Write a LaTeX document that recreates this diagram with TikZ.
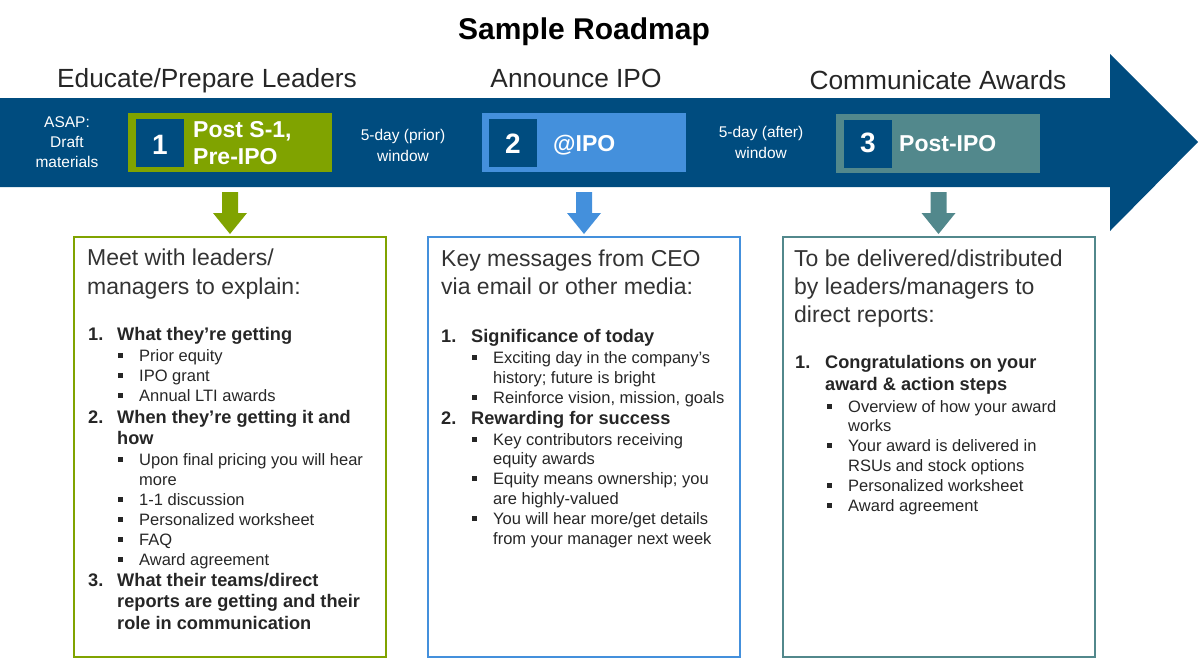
\documentclass[tikz,border=0pt]{standalone}
\usepackage{fontspec}
\setmainfont{Liberation Sans}
\definecolor{navy}{HTML}{004C7F}
\definecolor{lgreen}{HTML}{80A300}
\definecolor{lblue}{HTML}{4490DC}
\definecolor{teal2}{HTML}{52888C}
\definecolor{txt}{HTML}{262626}
\definecolor{hdc}{HTML}{333333}
\tikzset{
 tx/.style={inner sep=0pt, anchor=base west},
 ttl/.style={inner sep=0pt, anchor=base, font=\fontsize{30}{36}\selectfont\bfseries, text=black},
 sec/.style={inner sep=0pt, anchor=base, font=\fontsize{26.3}{31}\selectfont, text=txt},
 wt/.style={inner sep=0pt, anchor=base, font=\fontsize{15.5}{19}\selectfont, text=white},
 lab/.style={tx, font=\fontsize{23}{27}\selectfont\bfseries, text=white},
 num/.style={inner sep=0pt, anchor=base, font=\fontsize{28}{33}\selectfont\bfseries, text=white},
 hd/.style={tx, font=\fontsize{23}{28}\selectfont, text=hdc},
 bi/.style={tx, font=\fontsize{18.2}{21}\selectfont\bfseries, text=txt},
 si/.style={tx, font=\fontsize{16.5}{20}\selectfont, text=txt},
 stepbox/.style={draw=none, inner sep=0pt, minimum width=204pt, minimum height=59pt},
 sq/.style={fill=navy, inner sep=0pt, minimum size=48pt},
 cbox/.style={line width=2pt, inner sep=0pt, minimum width=312pt, minimum height=420pt},
}
\newcommand\blt[4]{\fill[txt] (#1-21,#2-8) rectangle (#1-16,#2-3); \node[si] (#4) at (#1,#2) {#3};}
\newcommand\darr[2]{\fill[#2] (#1-8,192) -- (#1+8,192) -- (#1+8,213) -- (#1+17,213) -- (#1,234) -- (#1-17,213) -- (#1-8,213) -- cycle;}
\begin{document}
\begin{tikzpicture}[x=1pt,y=-1pt]
\useasboundingbox (0,0) rectangle (1200,659);
% title and section headings
\node[ttl] (title) at (584,39) {Sample Roadmap};
\node[sec] (sec1) at (207,87) {Educate/Prepare Leaders};
\node[sec] (sec2) at (576,87) {Announce IPO};
\node[sec] (sec3) at (938,89) {Communicate Awards};
% main arrow
\fill[navy] (0,98) -- (1110,98) -- (1110,54) -- (1198,142) -- (1110,231) -- (1110,187) -- (0,187) -- cycle;
% texts on the arrow
\node[wt] (asap1) at (67,127) {ASAP:};
\node[wt] (asap2) at (67,147) {Draft};
\node[wt] (asap3) at (67,167) {materials};
\node[wt] (pr1) at (403,140) {5-day (prior)};
\node[wt] (pr2) at (403,161) {window};
\node[wt] (af1) at (761,137) {5-day (after)};
\node[wt] (af2) at (761,158) {window};
% step boxes
\node[stepbox, fill=lgreen] (s1) at (230,142.5) {};
\node[sq] (q1) at (160,143) {};
\node[num] (n1) at (160,154) {1};
\node[lab] (l1a) at (193,137) {Post S-1,};
\node[lab] (l1b) at (193,164) {Pre-IPO};
\node[stepbox, fill=lblue] (s2) at (584,142) {};
\node[sq] (q2) at (513,143) {};
\node[num] (n2) at (513,153.5) {2};
\node[lab] (l2) at (553,151) {@IPO};
\node[stepbox, fill=teal2] (s3) at (937.5,143.5) {};
\node[sq] (q3) at (868,143.5) {};
\node[num] (n3) at (868,152) {3};
\node[lab] (l3) at (899,151) {Post-IPO};
% down arrows
\darr{230}{lgreen}
\darr{584}{lblue}
\darr{938.5}{teal2}
% content boxes
\node[cbox, draw=lgreen] (c1) at (230,447) {};
\node[cbox, draw=lblue] (c2) at (584,447) {};
\node[cbox, draw=teal2] (c3) at (938.5,447) {};
% box 1 text
\node[hd] (h1a) at (87,265) {Meet with leaders/};
\node[hd] (h1b) at (87,294) {managers to explain:};
\node[bi] (a1n) at (88,340) {1.};
\node[bi] (a1) at (117,340) {What they’re getting};
\blt{139}{361}{Prior equity}{a1x}
\blt{139}{381}{IPO grant}{a1y}
\blt{139}{401}{Annual LTI awards}{a1z}
\node[bi] (a2n) at (88,423) {2.};
\node[bi] (a2) at (117,423) {When they’re getting it and};
\node[bi] (a2b) at (117,444) {how};
\blt{139}{465}{Upon final pricing you will hear}{a2u}
\node[si] (a2v) at (139,485) {more};
\blt{139}{505}{1-1 discussion}{a2w}
\blt{139}{525}{Personalized worksheet}{a2x}
\blt{139}{545}{FAQ}{a2y}
\blt{139}{565}{Award agreement}{a2z}
\node[bi] (a3n) at (88,586) {3.};
\node[bi] (a3) at (117,586) {What their teams/direct};
\node[bi] (a3b) at (117,607) {reports are getting and their};
\node[bi] (a3c) at (117,629) {role in communication};
% box 2 text
\node[hd] (h2a) at (441,266) {Key messages from CEO};
\node[hd] (h2b) at (441,294) {via email or other media:};
\node[bi] (b1n) at (441,342) {1.};
\node[bi] (b1) at (471,342) {Significance of today};
\blt{493}{363}{Exciting day in the company’s}{b1x}
\node[si] (b1y) at (493,383) {history; future is bright};
\blt{493}{403}{Reinforce vision, mission, goals}{b1z}
\node[bi] (b2n) at (441,424) {2.};
\node[bi] (b2) at (471,424) {Rewarding for success};
\blt{493}{445}{Key contributors receiving}{b2u}
\node[si] (b2v) at (493,464) {equity awards};
\blt{493}{484}{Equity means ownership; you}{b2w}
\node[si] (b2x) at (493,504) {are highly-valued};
\blt{493}{524}{You will hear more/get details}{b2y}
\node[si] (b2z) at (493,544) {from your manager next week};
% box 3 text
\node[hd] (h3a) at (794,266) {To be delivered/distributed};
\node[hd] (h3b) at (794,294) {by leaders/managers to};
\node[hd] (h3c) at (794,322) {direct reports:};
\node[bi] (d1n) at (795,368) {1.};
\node[bi] (d1) at (825,368) {Congratulations on your};
\node[bi] (d1b) at (825,390) {award \& action steps};
\blt{848}{412}{Overview of how your award}{d1u}
\node[si] (d1v) at (848,431) {works};
\blt{848}{451}{Your award is delivered in}{d1w}
\node[si] (d1x) at (848,471) {RSUs and stock options};
\blt{848}{491}{Personalized worksheet}{d1y}
\blt{848}{511}{Award agreement}{d1z}
\end{tikzpicture}
\end{document}
